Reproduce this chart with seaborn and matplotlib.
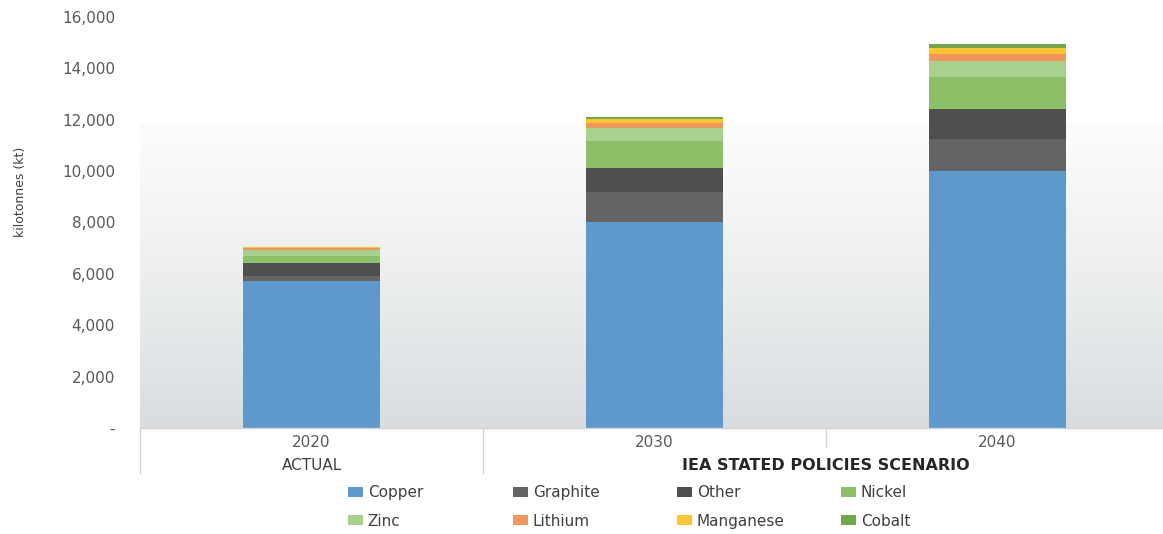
import numpy as np
import pandas as pd
import matplotlib
matplotlib.use("Agg")
import matplotlib.pyplot as plt
from matplotlib.patches import Patch
from matplotlib.colors import to_rgb
import seaborn as sns

# Demand for minerals used in clean energy technologies (kilotonnes)
years = ["2020", "2030", "2040"]
period_labels = ["ACTUAL", "IEA STATED POLICIES SCENARIO"]
minerals = ["Copper", "Graphite", "Other", "Nickel", "Zinc", "Lithium", "Manganese", "Cobalt"]

copper = [5730, 8000, 10000]
graphite = [180, 1170, 1235]
other = [510, 935, 1180]
nickel = [270, 1060, 1235]
zinc = [240, 495, 645]
lithium = [60, 195, 260]
manganese = [60, 165, 245]
cobalt = [15, 90, 130]

y_ticks = [0, 2000, 4000, 6000, 8000, 10000, 12000, 14000, 16000]
y_tick_labels = ["-", "2,000", "4,000", "6,000", "8,000", "10,000", "12,000", "14,000", "16,000"]

palette = {
    "Copper": "#5e99cd",
    "Graphite": "#646464",
    "Other": "#4f4f4f",
    "Nickel": "#8cc068",
    "Zinc": "#a9d18e",
    "Lithium": "#f2955a",
    "Manganese": "#fdc62e",
    "Cobalt": "#6faa4a",
}

series = [copper, graphite, other, nickel, zinc, lithium, manganese, cobalt]
df = pd.DataFrame(
    [(y, m, v) for m, vals in zip(minerals, series) for y, v in zip(years, vals)],
    columns=["year", "mineral", "kt"],
)
# cumulative heights so each layer sits on the ones below it
df["top"] = df.groupby("year")["kt"].cumsum()

sns.set_style("white")
plt.rcParams["font.family"] = ["DejaVu Sans"]

W, H = 1163, 534
fig = plt.figure(figsize=(W / 100, H / 100), dpi=100)
ax_left, ax_right, ax_top, ax_bottom = 140, 1163, 17, 428
ax = fig.add_axes([ax_left / W, 1 - ax_bottom / H,
                   (ax_right - ax_left) / W, (ax_bottom - ax_top) / H])

# soft vertical background shading of the plot area
grad_top = 11800
n = 256
c_top = np.array(to_rgb("#fcfcfc"))
c_bot = np.array(to_rgb("#d9dddf"))
t = np.linspace(0, 1, n)[:, None] ** 1.15
grad = (c_top * (1 - t) + c_bot * t)[:, None, :]
ax.imshow(grad, extent=[-0.5, 2.6, 0, grad_top], aspect="auto",
          origin="upper", zorder=0, interpolation="bilinear")

# stacked bars: draw cumulative totals from the top layer down
for m in reversed(minerals):
    sub = df[df["mineral"] == m]
    sns.barplot(data=sub, x="year", y="top", order=years, color=palette[m],
                saturation=1, width=0.4, errorbar=None, linewidth=0,
                edgecolor="none", ax=ax, zorder=2)

x_max = -0.5 + (ax_right - ax_left) / 343
ax.set_xlim(-0.5, x_max)
ax.set_ylim(0, 16000)
ax.set_yticks(y_ticks)
ax.set_yticklabels(y_tick_labels)

for s in ["top", "right", "left"]:
    ax.spines[s].set_visible(False)
ax.spines["bottom"].set_color("#d4d4d4")
ax.spines["bottom"].set_linewidth(1)
ax.spines["bottom"].set_zorder(3)

ax.tick_params(axis="y", length=0, pad=18, labelsize=11, labelcolor="#595959")
ax.tick_params(axis="x", length=0, pad=5, labelsize=11, labelcolor="#595959")
ax.set_xlabel("")
ax.set_ylabel("kilotonnes (kt)", fontsize=9, color="#404040")
ax.yaxis.set_label_coords((27 - ax_left) / (ax_right - ax_left),
                          (ax_bottom - 192) / (ax_bottom - ax_top))

# category group separators and group labels below the axis
ah = ax_bottom - ax_top
trans = ax.get_xaxis_transform()
for xs, depth in [(-0.5, 45), (0.5, 45), (1.5, 19)]:
    ax.plot([xs, xs], [0, -depth / ah], transform=trans, color="#d4d4d4",
            lw=1, clip_on=False, zorder=3)
ax.text(0, -(465 - ax_bottom) / ah, period_labels[0], transform=trans,
        ha="center", va="center", fontsize=11, color="#404040")
ax.text(1.5, -(465 - ax_bottom) / ah, period_labels[1], transform=trans,
        ha="center", va="center", fontsize=11.5, fontweight="bold", color="#262626")

# legend laid out as four evenly spaced columns
col_x = [348, 513, 677, 841]
for k, x in enumerate(col_x):
    handles = [Patch(facecolor=palette[minerals[k]], edgecolor="none"),
               Patch(facecolor=palette[minerals[k + 4]], edgecolor="none")]
    fig.legend(handles, [minerals[k], minerals[k + 4]], loc="center left",
               bbox_to_anchor=(x / W, 1 - 507 / H), frameon=False,
               fontsize=11, handlelength=1.0, handleheight=0.6,
               handletextpad=0.3, labelspacing=0.88, borderpad=0,
               borderaxespad=0, labelcolor="#404040")

fig.savefig("out.png", dpi=100)
